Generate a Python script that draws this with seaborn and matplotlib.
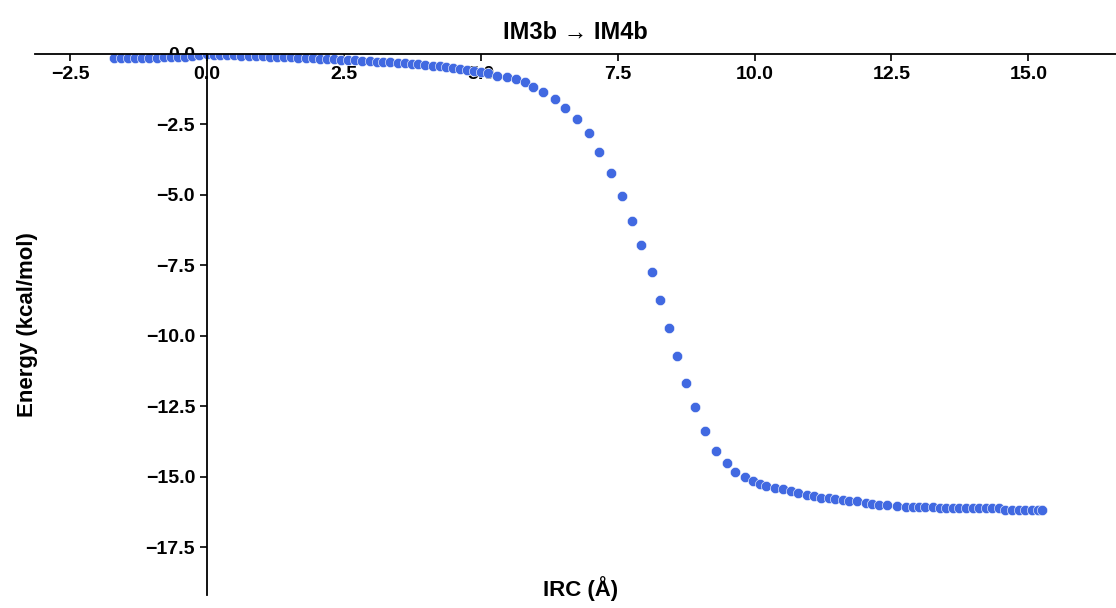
import matplotlib
matplotlib.use("Agg")
import matplotlib.pyplot as plt
import seaborn as sns
import pandas as pd

# IRC coordinate (Å) and relative energy (kcal/mol)
irc = [-1.70, -1.57, -1.44, -1.31, -1.18, -1.05, -0.92, -0.79, -0.66, -0.53,
       -0.40, -0.27, -0.14, 0.00, 0.12, 0.24, 0.37, 0.50, 0.63, 0.76,
       0.89, 1.02, 1.15, 1.28, 1.41, 1.54, 1.67, 1.80, 1.93, 2.06,
       2.19, 2.32, 2.45, 2.58, 2.71, 2.84, 2.97, 3.10, 3.22, 3.35,
       3.48, 3.61, 3.74, 3.86, 3.99, 4.12, 4.25, 4.37, 4.50, 4.62,
       4.75, 4.88, 5.00, 5.13, 5.29, 5.47, 5.65, 5.80, 5.96, 6.14,
       6.35, 6.53, 6.75, 6.97, 7.15, 7.37, 7.57, 7.77, 7.92, 8.12,
       8.28, 8.44, 8.59, 8.75, 8.91, 9.10, 9.30, 9.49, 9.65, 9.82,
       9.98, 10.09, 10.21, 10.38, 10.51, 10.67, 10.80, 10.95, 11.08, 11.22,
       11.36, 11.47, 11.61, 11.73, 11.87, 12.03, 12.15, 12.28, 12.42, 12.60,
       12.76, 12.89, 13.01, 13.12, 13.25, 13.38, 13.50, 13.62, 13.74, 13.86,
       13.98, 14.10, 14.22, 14.34, 14.46, 14.58, 14.70, 14.82, 14.94, 15.06,
       15.18, 15.25]
energy = [-0.15, -0.15, -0.14, -0.14, -0.14, -0.13, -0.13, -0.12, -0.12, -0.11,
          -0.10, -0.08, -0.05, 0.00, -0.03, -0.04, -0.04, -0.05, -0.06, -0.07,
          -0.07, -0.08, -0.09, -0.10, -0.11, -0.12, -0.13, -0.14, -0.15, -0.16,
          -0.17, -0.19, -0.20, -0.21, -0.23, -0.24, -0.26, -0.27, -0.29, -0.30,
          -0.32, -0.33, -0.35, -0.37, -0.38, -0.41, -0.44, -0.47, -0.50, -0.53,
          -0.56, -0.60, -0.63, -0.68, -0.77, -0.83, -0.90, -0.98, -1.16, -1.34,
          -1.60, -1.93, -2.30, -2.81, -3.49, -4.24, -5.05, -5.92, -6.78, -7.73,
          -8.72, -9.72, -10.71, -11.66, -12.53, -13.39, -14.08, -14.50, -14.82, -15.02,
          -15.14, -15.26, -15.32, -15.39, -15.45, -15.50, -15.57, -15.64, -15.70, -15.76,
          -15.77, -15.80, -15.82, -15.88, -15.88, -15.93, -15.96, -15.99, -16.00, -16.05,
          -16.07, -16.07, -16.07, -16.07, -16.07, -16.10, -16.11, -16.11, -16.11, -16.12,
          -16.12, -16.12, -16.12, -16.12, -16.13, -16.17, -16.17, -16.18, -16.18, -16.18,
          -16.18, -16.17]

title = "IM3b \u2192 IM4b"
xlabel = "IRC (\u00c5)"
ylabel = "Energy (kcal/mol)"

sns.set_style("white")
plt.rcParams['font.family'] = ['Liberation Sans', 'DejaVu Sans']
plt.rcParams['font.weight'] = 'bold'
plt.rcParams['text.color'] = 'black'
plt.rcParams['axes.labelcolor'] = 'black'

df = pd.DataFrame({"IRC": irc, "Energy": energy})

W, H = 1116, 608
fig = plt.figure(figsize=(W / 100, H / 100), dpi=100)
ax = fig.add_axes([35 / W, (H - 595) / H, (1116 - 35) / W, (595 - 54) / H])

sns.scatterplot(data=df, x="IRC", y="Energy", ax=ax, color="royalblue",
                s=55, edgecolor="white", linewidth=0.4, legend=False)

ax.set_xlim(-3.14, 16.6)
ax.set_ylim(-19.2, 0.0)

ax.spines['left'].set_position(('data', 0))
ax.spines['bottom'].set_position(('data', 0))
ax.spines['top'].set_visible(False)
ax.spines['right'].set_visible(False)
for s in ('left', 'bottom'):
    ax.spines[s].set_linewidth(1.3)
    ax.spines[s].set_color('black')

ax.tick_params(axis='both', which='major', direction='out', length=5, width=1.2,
               labelsize=14, colors='black', bottom=True, left=True)
for lab in ax.get_xticklabels() + ax.get_yticklabels():
    lab.set_fontweight('bold')

ax.set_title(title, fontsize=17, fontweight='bold', pad=11, color='black')
ax.set_xlabel(xlabel, fontsize=16, fontweight='bold')
ax.set_ylabel(ylabel, fontsize=16, fontweight='bold')
ax.xaxis.set_label_coords(0.505, 0.035)
ax.yaxis.set_label_coords(0.003, 0.5)

fig.savefig("out.png", dpi=100)
